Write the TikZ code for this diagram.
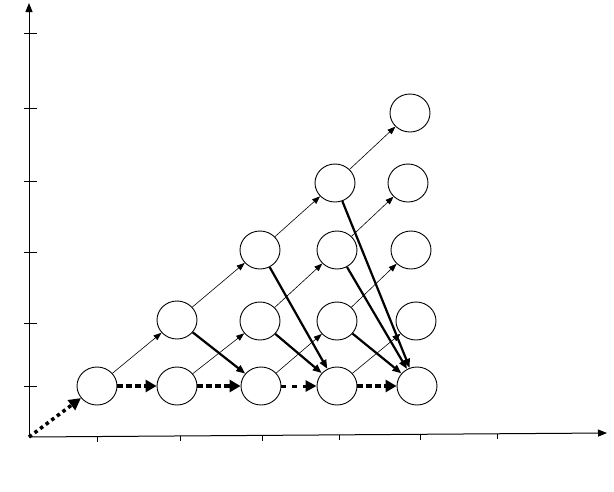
\documentclass[tikz,border=0pt]{standalone}
\usepackage{tikz}
\usetikzlibrary{arrows.meta}
\usetikzlibrary{shapes.geometric}
\tikzset{
    state/.style = {ellipse, draw=black, line width=0.9pt, minimum width=40pt, minimum height=38pt, inner sep=0pt},
    axis/.style = {line width=1pt, -{Triangle[length=9pt,width=7pt]}},
    tick/.style = {line width=0.8pt},
    thin_arrow/.style = {line width=0.6pt, -{Triangle[length=8pt,width=6pt]}},
    thick_arrow/.style = {line width=2.2pt, -{Triangle[length=9pt,width=7pt]}},
    dot_arrow/.style = {line width=3.5pt, dash pattern=on 3.5pt off 3.5pt, -{Triangle[length=12pt,width=12pt]}},
    dash_arrow/.style = {line width=4pt, dash pattern=on 6pt off 3pt, -{Triangle[length=11pt,width=12pt]}},
    gap_arrow/.style = {line width=3pt, dash pattern=on 5pt off 6pt, -{Triangle[length=11pt,width=11pt]}}
}

\begin{document}
\begin{tikzpicture}[x=1pt, y=-1pt]
    \useasboundingbox (0,0) rectangle (614,491);

    % axes
    \coordinate (O) at (29,437);
    \coordinate (ytop) at (29,3);
    \coordinate (xend) at (607,433);
    \draw [axis] (O) -- (ytop);
    \draw [axis] (O) -- (xend);
    \foreach \ty in {33,108,181,252,323,386}
        \draw [tick] (24,\ty) -- (37,\ty);
    \foreach \tx/\ta in {97/436.5,180/436,262/435.5,339/435,420/434.5,497/434}
        \draw [tick] (\tx,\ta) -- (\tx,\ta+5);

    % states
    \node [state] (n10) at (97,386) {};
    \node [state] (n20) at (177,386) {};
    \node [state] (n21) at (177,320) {};
    \node [state] (n30) at (261,386) {};
    \node [state] (n31) at (260,321) {};
    \node [state] (n32) at (260,250) {};
    \node [state] (n40) at (337,386) {};
    \node [state] (n41) at (337,321) {};
    \node [state] (n42) at (337,250) {};
    \node [state] (n43) at (335,183) {};
    \node [state] (n50) at (417,386) {};
    \node [state] (n51) at (416,321) {};
    \node [state] (n52) at (411,250) {};
    \node [state] (n53) at (408,183) {};
    \node [state] (n54) at (410,113) {};

    % bottom chain
    \draw [dot_arrow] (O) -- (n10);
    \draw [dash_arrow] (n10) -- (n20);
    \draw [dash_arrow] (n20) -- (n30);
    \draw [gap_arrow] (n30) -- (n40);
    \draw [dash_arrow] (n40) -- (n50);

    % up steps
    \draw [thin_arrow] (n10) -- (n21);
    \draw [thin_arrow] (n21) -- (n32);
    \draw [thin_arrow] (n32) -- (n43);
    \draw [thin_arrow] (n43) -- (n54);
    \draw [thin_arrow] (n20) -- (n31);
    \draw [thin_arrow] (n31) -- (n42);
    \draw [thin_arrow] (n42) -- (n53);
    \draw [thin_arrow] (n30) -- (n41);
    \draw [thin_arrow] (n41) -- (n52);
    \draw [thin_arrow] (n40) -- (n51);

    % drops
    \draw [thick_arrow] (n21) -- (n30);
    \draw [thick_arrow] (n32) -- (n40);
    \draw [thick_arrow] (n31) -- (n40);
    \draw [thick_arrow] (n43) -- (n50);
    \draw [thick_arrow] (n42) -- (n50);
    \draw [thick_arrow] (n41) -- (n50);
\end{tikzpicture}
\end{document}
